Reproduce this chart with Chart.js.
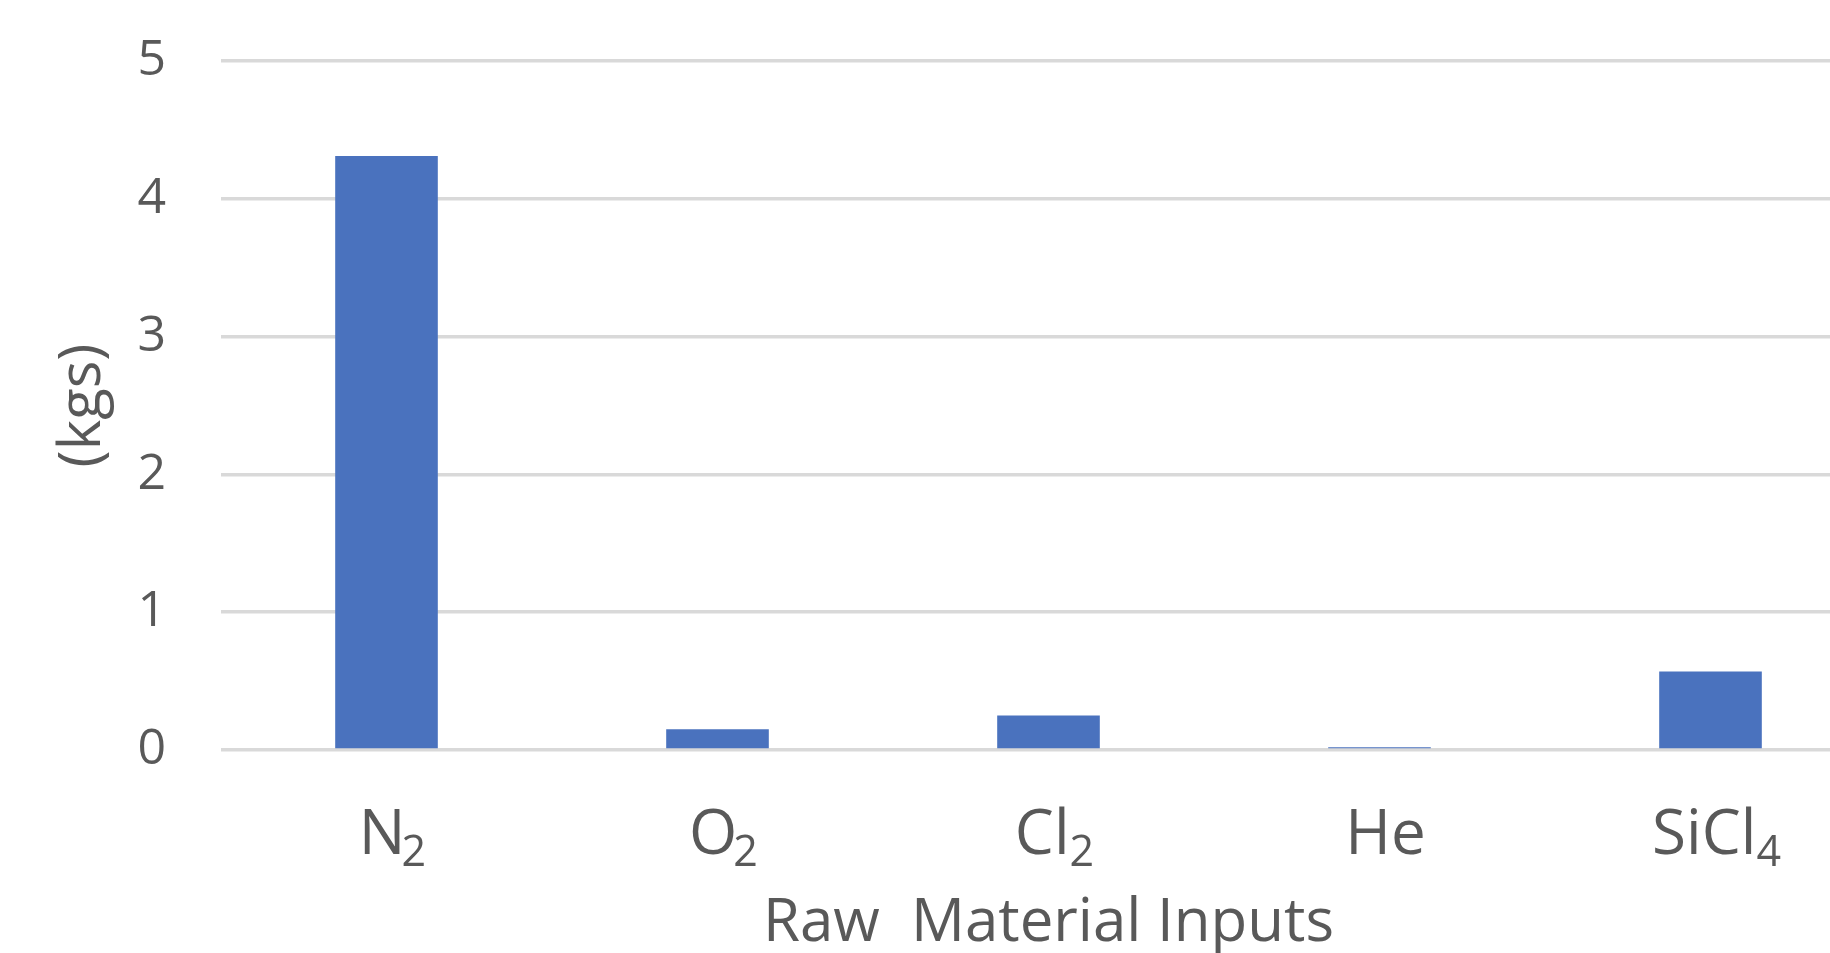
<!DOCTYPE html>
<html>
<head>
<meta charset="utf-8">
<script src="https://cdn.jsdelivr.net/npm/chart.js@4"></script>
<style>
  html, body { margin: 0; padding: 0; background: #ffffff; overflow: hidden; }
  #wrap { position: relative; width: 1876px; height: 953px; }
</style>
</head>
<body>
<div id="wrap"><canvas id="chart"></canvas></div>
<script>
// Category names: chemical symbol plus subscript count
const categoryBase = ['N', 'O', 'Cl', 'He', 'SiCl'];
const categorySub = ['2', '2', '2', '', '4'];
const categories = categoryBase.map((b, i) => b + categorySub[i]);
const rawMaterialKgs = [4.31, 0.15, 0.25, 0.02, 0.57];
const yTicks = [0, 1, 2, 3, 4, 5];
const xTitle = 'Raw  Material Inputs';
const yTitle = '(kgs)';

const textColor = '#595959';
const fontFamily = '"Open Sans", "DejaVu Sans", sans-serif';
const fontWeight = 500;

// Draws the x category labels (with chemical subscripts) at the x scale's tick positions
const subscriptLabels = {
  id: 'subscriptLabels',
  afterDraw(chart) {
    const xs = chart.scales.x;
    const ctx = chart.ctx;
    const mainFont = fontWeight + ' 62px ' + fontFamily;
    const subFont = fontWeight + ' 43px ' + fontFamily;
    const baseY = xs.top + 104;
    const subY = baseY + 12;
    const shift = 6;
    ctx.save();
    ctx.fillStyle = textColor;
    ctx.textBaseline = 'alphabetic';
    ctx.textAlign = 'left';
    xs.ticks.forEach((t, i) => {
      const cx = xs.getPixelForTick(i) + shift;
      const base = categoryBase[i];
      const sub = categorySub[i];
      const gap = base.endsWith('l') ? 0 : -4;
      ctx.font = mainFont;
      const wb = ctx.measureText(base).width;
      ctx.font = subFont;
      const ws = sub ? ctx.measureText(sub).width + gap : 0;
      const x0 = cx - (wb + ws) / 2;
      ctx.font = mainFont;
      ctx.fillText(base, x0, baseY);
      if (sub) {
        ctx.font = subFont;
        ctx.fillText(sub, x0 + wb + gap, subY);
      }
    });
    ctx.restore();
  }
};

new Chart(document.getElementById('chart'), {
  type: 'bar',
  data: {
    labels: categories,
    datasets: [{
      data: rawMaterialKgs,
      backgroundColor: '#4A72BE',
      borderWidth: 0,
      categoryPercentage: 1.0,
      barPercentage: 0.31
    }]
  },
  options: {
    responsive: true,
    maintainAspectRatio: false,
    animation: false,
    layout: { padding: { top: 61, right: 0, bottom: 0, left: 0 } },
    plugins: { legend: { display: false }, tooltip: { enabled: false } },
    scales: {
      x: {
        grid: { display: false, drawTicks: false },
        border: { display: false },
        ticks: { display: false },
        title: { display: true, text: xTitle, color: textColor, font: { family: fontFamily, size: 60, weight: fontWeight }, padding: { top: 0, bottom: -7 } },
        afterFit: s => { s.height = 203; }
      },
      y: {
        min: 0, max: 5,
        afterBuildTicks: s => { s.ticks = yTicks.map(v => ({ value: v })); },
        grid: { color: '#D9D9D9', lineWidth: 3.5, drawTicks: true, tickLength: 55, tickColor: 'rgba(0,0,0,0)' },
        border: { display: false },
        ticks: { color: textColor, font: { family: fontFamily, size: 50, weight: fontWeight }, padding: 0 },
        title: { display: true, text: yTitle, color: textColor, font: { family: fontFamily, size: 58, weight: fontWeight }, padding: { top: 49, bottom: 0 } },
        afterFit: s => { s.width = 221; }
      }
    }
  },
  plugins: [subscriptLabels]
});
</script>
</body>
</html>
